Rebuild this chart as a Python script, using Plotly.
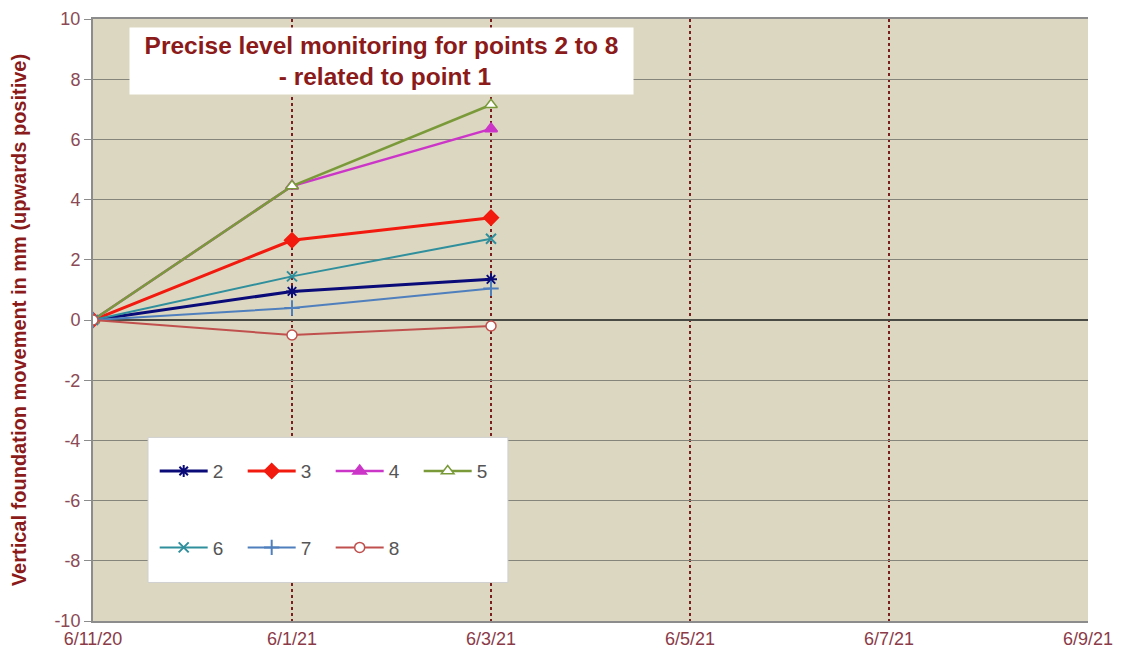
import plotly.graph_objects as go

# x categories (evenly spaced dates, as in the spreadsheet chart)
dates = ["6/11/20", "6/1/21", "6/3/21", "6/5/21", "6/7/21", "6/9/21"]
measured = dates[:3]

# y axis ticks
y_ticks = [-10, -8, -6, -4, -2, 0, 2, 4, 6, 8, 10]

# vertical movement relative to point 1, mm
p2 = [0, 0.95, 1.35]
p3 = [0, 2.65, 3.4]
p4 = [0, 4.45, 6.35]
p5 = [0, 4.45, 7.15]
p6 = [0, 1.45, 2.7]
p7 = [0, 0.4, 1.05]
p8 = [0, -0.5, -0.2]

series = [
    ("2", p2, "#0a0a78", "asterisk-open", 3, 10, None, "legend"),
    ("3", p3, "#f21a0e", "diamond", 3, 11, None, "legend"),
    ("4", p4, "#cc36c8", "triangle-up", 2.5, 11, None, "legend"),
    ("5", p5, "#7a9a3a", "triangle-up", 2.5, 11, "white", "legend"),
    ("6", p6, "#2f8f9c", "x-thin-open", 2, 10, None, "legend2"),
    ("7", p7, "#4f7fbd", "cross-thin-open", 2, 11, None, "legend2"),
    ("8", p8, "#c0504d", "circle", 2, 10, "white", "legend2"),
]

fig = go.Figure()
for name, vals, color, sym, lw, size, fill, leg in series:
    marker = dict(symbol=sym, size=size, color=fill or color,
                  line=dict(color=color, width=1.5 if fill else 2))
    fig.add_trace(go.Scatter(
        x=measured, y=vals, name=name, mode="lines+markers",
        line=dict(color=color, width=lw), marker=marker, legend=leg,
    ))

# white legend box
fig.add_shape(type="rect", xref="paper", yref="paper",
              x0=0.0553, x1=0.417, y0=0.064, y1=0.305,
              fillcolor="white", line=dict(color="#d0d0d0", width=1), layer="above")

legend_style = dict(orientation="h", x=0.062, xanchor="left", yanchor="middle",
                    bgcolor="rgba(0,0,0,0)", font=dict(size=19, color="#555555"),
                    itemwidth=48, entrywidth=25, entrywidthmode="pixels", tracegroupgap=0)

# page body has an 8px margin, so the figure is a bit smaller than the window
fig.update_layout(
    width=1105, height=643,
    margin=dict(l=85, r=25, t=11, b=30),
    paper_bgcolor="white",
    plot_bgcolor="#dcd7c0",
    font=dict(family="Liberation Sans, Arial, sans-serif"),
    legend=dict(y=0.249, **legend_style),
    legend2=dict(y=0.122, **legend_style),
    annotations=[dict(
        text="<b>Precise level monitoring for points 2 to 8<br> - related to point 1</b>",
        xref="paper", yref="paper", x=0.29, y=0.93, xanchor="center", yanchor="middle",
        showarrow=False, font=dict(size=24.5, color="#8b1a1a"),
        bgcolor="white", borderpad=3, width=497, height=60,
    )],
)

fig.update_xaxes(
    type="category", categoryorder="array", categoryarray=dates,
    range=[0, len(dates) - 1], automargin=False,
    showgrid=True, gridcolor="#7a1f1f", griddash="dot", gridwidth=1.5,
    showline=True, linecolor="#8c8c8c", linewidth=2, mirror=True,
    tickfont=dict(size=18, color="#8b3a48"), ticks="", zeroline=False,
)
fig.update_yaxes(
    range=[-10, 10], tickvals=y_ticks, ticktext=[str(v) for v in y_ticks],
    automargin=False, ticklabeloverflow="allow",
    showgrid=True, gridcolor="#85857c", gridwidth=1.4,
    zeroline=True, zerolinecolor="#4a4a44", zerolinewidth=2,
    showline=True, linecolor="#8c8c8c", linewidth=2,
    ticks="outside", ticklen=7, tickcolor="#8c8c8c",
    tickfont=dict(size=18, color="#8b4a55"),
    title=dict(text="<b>Vertical foundation movement in mm (upwards positive)</b>",
               font=dict(size=20, color="#8b1a1a"), standoff=24),
)

fig.write_html("out.html")
